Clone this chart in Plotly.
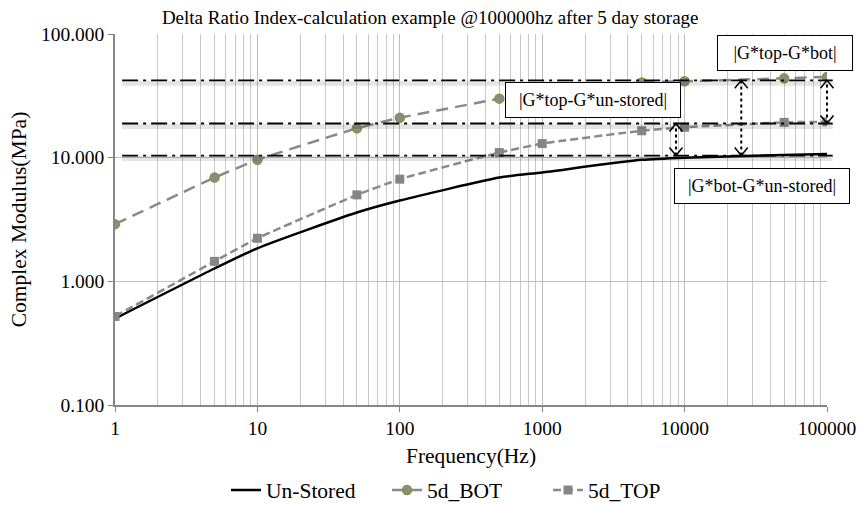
import math
import plotly.graph_objects as go

# ---- data ----
freq = [1, 5, 10, 50, 100, 500, 1000, 5000, 10000, 50000, 100000]
unstored = [0.50, 1.27, 1.85, 3.6, 4.5, 6.9, 7.6, 9.6, 10.0, 10.5, 10.7]
bot_5d = [2.9, 6.9, 9.6, 17.3, 21.0, 30.0, 35.0, 40.5, 41.5, 43.8, 45.0]
top_5d = [0.52, 1.45, 2.23, 5.0, 6.7, 11.0, 13.0, 16.5, 17.6, 19.3, 19.5]

x_tickvals = [1, 10, 100, 1000, 10000, 100000]
x_ticktext = ["1", "10", "100", "1000", "10000", "100000"]
y_tickvals = [0.1, 1, 10, 100]
y_ticktext = ["0.100", "1.000", "10.000", "100.000"]

ref_levels = [42.2, 18.9, 10.4]           # dash-dot reference levels (MPa)
arrow_x = [8700, 25000, 100000]            # Hz
arrow_from = [10.4, 10.4, 18.9]
arrow_to = [18.9, 42.2, 42.2]

label_text = ["|G*top-G*bot|", "|G*top-G*un-stored|", "|G*bot-G*un-stored|"]
label_x = [50700, 2275, 35000]
label_y = [69.7, 29.3, 5.86]

# styling (box sizes in px)
label_box_w = [120, 160, 160]
LABEL_BOX_H = 20

FONT = "Liberation Serif"
XMIN, XMAX = 0, 5     # log10 range
YMIN, YMAX = -1, 2
W, H = 857, 505
ML, MR, MT, MB = 115, 30, 34, 100
PW, PH = W - ML - MR, H - MT - MB


def px_(v):
    return (math.log10(v) - XMIN) / (XMAX - XMIN)


def py_(v):
    return (math.log10(v) - YMIN) / (YMAX - YMIN)


fig = go.Figure()
fig.add_trace(go.Scatter(x=freq, y=unstored, name="Un-Stored", mode="lines",
                         line=dict(color="black", width=2.5, shape="spline", smoothing=0.6)))
fig.add_trace(go.Scatter(x=freq, y=bot_5d, name="5d_BOT", mode="lines+markers",
                         line=dict(color="#898989", width=2.5, dash="12px,7px", shape="spline", smoothing=0.4),
                         marker=dict(symbol="circle", size=9, color="#8a8a8a",
                                     line=dict(color="#7a9a3a", width=1.5))))
fig.add_trace(go.Scatter(x=freq, y=top_5d, name="5d_TOP", mode="lines+markers",
                         line=dict(color="#898989", width=2.5, dash="8px,4px", shape="spline", smoothing=0.4),
                         marker=dict(symbol="square", size=9, color="#858585")))

shapes = []
ppx = 1.0 / PH
pxx = 1.0 / PW
for lv in ref_levels:
    yp = py_(lv)
    shapes.append(dict(type="line", xref="paper", yref="paper", x0=0.01, x1=1.008,
                       y0=yp - 3 * ppx, y1=yp - 3 * ppx,
                       line=dict(color="rgba(0,0,0,0.10)", width=5)))
    shapes.append(dict(type="line", xref="paper", yref="paper", x0=0.01, x1=1.008,
                       y0=yp, y1=yp,
                       line=dict(color="black", width=1.8, dash="16px,5px,3px,5px")))

HW, HH = 6.5, 8   # arrow head half width / height in px
for xa, y0, y1 in zip(arrow_x, arrow_from, arrow_to):
    xp = px_(xa)
    ya, yb = py_(y0), py_(y1)
    shapes.append(dict(type="line", xref="paper", yref="paper", x0=xp, x1=xp,
                       y0=ya, y1=yb,
                       line=dict(color="black", width=2, dash="dot")))
    shapes.append(dict(type="path", xref="paper", yref="paper",
                       path=f"M {xp - HW * pxx} {yb - HH * ppx} L {xp} {yb} L {xp + HW * pxx} {yb - HH * ppx}",
                       line=dict(color="black", width=1.5)))
    shapes.append(dict(type="path", xref="paper", yref="paper",
                       path=f"M {xp - HW * pxx} {ya + HH * ppx} L {xp} {ya} L {xp + HW * pxx} {ya + HH * ppx}",
                       line=dict(color="black", width=1.5)))

annotations = []
for t, lx, ly, bw in zip(label_text, label_x, label_y, label_box_w):
    annotations.append(dict(xref="x", yref="y", x=math.log10(lx), y=math.log10(ly),
                            text=t, showarrow=False, bgcolor="white",
                            width=bw, height=LABEL_BOX_H, align="center", valign="middle",
                            bordercolor="black", borderwidth=1, borderpad=7,
                            font=dict(family=FONT, size=18, color="black")))

fig.update_layout(
    width=W, height=H,
    margin=dict(l=ML, r=MR, t=MT, b=MB, autoexpand=False),
    paper_bgcolor="white", plot_bgcolor="white",
    font=dict(family=FONT, size=18, color="black"),
    title=dict(text="Delta Ratio Index-calculation example @100000hz after 5 day storage",
               x=0.502, xanchor="center", y=1 - 17 / H, yanchor="middle", yref="container",
               font=dict(family=FONT, size=19, color="black")),
    showlegend=True,
    legend=dict(orientation="h", x=226 / W, xanchor="left", xref="container",
                y=1 - 490 / H, yanchor="middle", yref="container",
                entrywidth=116, entrywidthmode="pixels",
                font=dict(family=FONT, size=21.5), tracegroupgap=0),
    shapes=shapes,
    annotations=annotations,
)
fig.update_xaxes(type="log", range=[XMIN, XMAX], tickvals=x_tickvals, ticktext=x_ticktext,
                 automargin=False,
                 showgrid=True, gridcolor="#bdbdbd", gridwidth=1,
                 showline=True, linecolor="#868686", linewidth=1.5,
                 ticks="outside", ticklen=5, tickcolor="#868686",
                 tickfont=dict(family=FONT, size=19.5),
                 minor=dict(dtick="D1", showgrid=True, gridcolor="#c8c8c8", gridwidth=1, ticks=""),
                 title=dict(text="Frequency(Hz)", standoff=10, font=dict(family=FONT, size=21.5)),
                 zeroline=False)
fig.update_yaxes(type="log", range=[YMIN, YMAX], tickvals=y_tickvals, ticktext=y_ticktext,
                 automargin=False,
                 showgrid=True, gridcolor="#bdbdbd", gridwidth=1,
                 showline=True, linecolor="#868686", linewidth=1.5,
                 ticks="outside", ticklen=5, tickcolor="#868686",
                 tickfont=dict(family=FONT, size=19.5),
                 title=dict(text="Complex Modulus(MPa)", standoff=8, font=dict(family=FONT, size=21.5)),
                 zeroline=False)

fig.write_html("out.html", config={"displayModeBar": False},
               post_script="document.body.style.margin='0';document.body.style.padding='0';"
                           "document.body.style.overflow='hidden';")
